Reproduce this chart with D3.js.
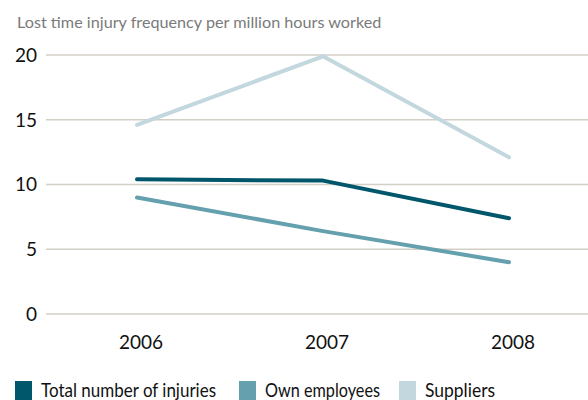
<!DOCTYPE html>
<html>
<head>
<meta charset="utf-8">
<script src="https://cdn.jsdelivr.net/npm/d3@7"></script>
<style>
  body { margin: 0; background: #fff; }
  text { font-family: "Lato", "Noto Sans", sans-serif; }
</style>
</head>
<body>
<div id="chart"></div>
<script>
// values
var years = ["2006", "2007", "2008"];
var totalInjuries = [10.4, 10.3, 7.4];
var ownEmployees = [9.0, 6.4, 4.0];
var suppliers = [14.6, 19.9, 12.1];
var yTicks = [0, 5, 10, 15, 20];
var seriesNames = ["Total number of injuries", "Own employees", "Suppliers"];
var seriesColors = ["#00566b", "#64a0ae", "#c3d8de"];

var width = 588, height = 400;

var svg = d3.select("#chart").append("svg")
  .attr("width", width)
  .attr("height", height);

svg.append("text")
  .attr("x", 17)
  .attr("y", 28)
  .attr("font-size", 16.2)
  .attr("fill", "#7a7a7a")
  .text("Lost time injury frequency per million hours worked");

var x = d3.scalePoint().domain(years).range([137, 509]);
var y = d3.scaleLinear().domain([0, 20]).range([314, 55]);

// gridlines
svg.append("g")
  .selectAll("line")
  .data(yTicks)
  .join("line")
  .attr("x1", 46)
  .attr("x2", width)
  .attr("y1", function (d) { return y(d); })
  .attr("y2", function (d) { return y(d); })
  .attr("stroke", "#d2cfc5")
  .attr("stroke-width", 1.5);

svg.append("g")
  .selectAll("text")
  .data(yTicks)
  .join("text")
  .attr("x", 37)
  .attr("y", function (d) { return y(d); })
  .attr("dy", "0.36em")
  .attr("text-anchor", "end")
  .attr("font-size", 19)
  .attr("fill", "#111")
  .text(function (d) { return d; });

svg.append("g")
  .selectAll("text")
  .data(years)
  .join("text")
  .attr("x", function (d) { return x(d) + 4; })
  .attr("y", 349)
  .attr("text-anchor", "middle")
  .attr("font-size", 19)
  .attr("fill", "#111")
  .text(function (d) { return d; });

var line = d3.line()
  .x(function (d, i) { return x(years[i]); })
  .y(function (d) { return y(d); });

var allSeries = [totalInjuries, ownEmployees, suppliers];
// draw suppliers first so darker lines sit on top
[2, 1, 0].forEach(function (k) {
  svg.append("path")
    .datum(allSeries[k])
    .attr("d", line)
    .attr("fill", "none")
    .attr("stroke", seriesColors[k])
    .attr("stroke-width", 4)
    .attr("stroke-linecap", "round")
    .attr("stroke-linejoin", "round");
});

// legend (reference font is narrower, so squeeze to its widths)
var legendX = [15, 239, 399];
var legendW = [175, 115, 70];
var legend = svg.append("g")
  .selectAll("g")
  .data(seriesNames)
  .join("g")
  .attr("transform", function (d, i) { return "translate(" + legendX[i] + ",381)"; });

legend.append("rect")
  .attr("width", 17)
  .attr("height", 19)
  .attr("fill", function (d, i) { return seriesColors[i]; });

legend.append("text")
  .attr("x", 26)
  .attr("y", 16)
  .attr("font-size", 19)
  .attr("fill", "#111")
  .attr("textLength", function (d, i) { return legendW[i]; })
  .attr("lengthAdjust", "spacingAndGlyphs")
  .text(function (d) { return d; });
</script>
</body>
</html>
